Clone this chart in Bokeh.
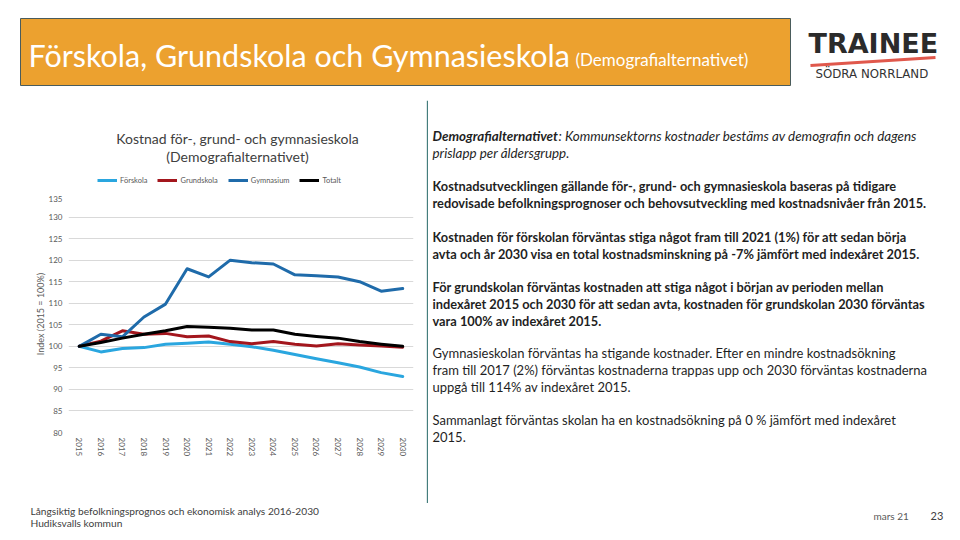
from bokeh.plotting import figure
from bokeh.models import Range1d, FactorRange, FixedTicker
from bokeh.layouts import column, row
from bokeh.embed import file_html
from bokeh.resources import INLINE
from bokeh.core.properties import value

FONT = "Lato"
NAN = float("nan")

# ---------------- data ----------------
years = ["2015", "2016", "2017", "2018", "2019", "2020", "2021", "2022",
         "2023", "2024", "2025", "2026", "2027", "2028", "2029", "2030"]
forskola = [100, 98.7, 99.5, 99.7, 100.5, 100.7, 101.0, 100.5,
            99.9, 99.1, 98.1, 97.1, 96.2, 95.2, 93.9, 93.0]
grundskola = [100, 101.2, 103.6, 102.8, 103.0, 102.2, 102.4, 101.1,
              100.6, 101.1, 100.5, 100.1, 100.6, 100.3, 100.1, 99.8]
gymnasium = [100, 102.8, 102.2, 106.8, 109.8, 118.0, 116.1, 120.0,
             119.4, 119.1, 116.6, 116.4, 116.1, 115.0, 112.8, 113.4]
totalt = [100, 100.9, 101.9, 102.8, 103.6, 104.6, 104.4, 104.2,
          103.8, 103.8, 102.8, 102.3, 101.9, 101.1, 100.5, 100.0]
series_names = ["Förskola", "Grundskola", "Gymnasium", "Totalt"]
series_colors = ["#2AA6DF", "#A3161D", "#1F6BAA", "#000000"]
y_ticks = [80, 85, 90, 95, 100, 105, 110, 115, 120, 125, 130, 135]
y_min, y_max = 80, 135

chart_title = ["Kostnad för-, grund- och gymnasieskola", "(Demografialternativet)"]
y_label = "Index (2015 = 100%)"

slide_title = "Förskola, Grundskola och Gymnasieskola"
slide_subtitle = "(Demografialternativet)"

intro_bold = "Demografialternativet"
intro_rest = ": Kommunsektorns kostnader bestäms av demografin och dagens"
intro_line2 = "prislapp per åldersgrupp."
bold_lines = [
    "Kostnadsutvecklingen gällande för-, grund- och gymnasieskola baseras på tidigare",
    "redovisade befolkningsprognoser och behovsutveckling med kostnadsnivåer från 2015.",
    "Kostnaden för förskolan förväntas stiga något fram till 2021 (1%) för att sedan börja",
    "avta och år 2030 visa en total kostnadsminskning på -7% jämfört med indexåret 2015.",
    "För grundskolan förväntas kostnaden att stiga något i början av perioden mellan",
    "indexåret 2015 och 2030 för att sedan avta, kostnaden för grundskolan 2030 förväntas",
    "vara 100% av indexåret 2015.",
]
bold_y = [185, 202, 236, 253, 286, 303, 320]
regular_lines = [
    "Gymnasieskolan förväntas ha stigande kostnader. Efter en mindre kostnadsökning",
    "fram till 2017 (2%) förväntas kostnaderna trappas upp och 2030 förväntas kostnaderna",
    "uppgå till 114% av indexåret 2015.",
    "Sammanlagt förväntas skolan ha en kostnadsökning på 0 % jämfört med indexåret",
    "2015.",
]
regular_y = [352, 369, 386, 419, 436]
footer_lines = ["Långsiktig befolkningsprognos och ekonomisk analys 2016-2030",
                "Hudiksvalls kommun"]


def blank(w, h, x0, x1, y0, y1, **kw):
    f = figure(width=w, height=h, x_range=Range1d(x0, x1), y_range=Range1d(y0, y1),
               toolbar_location=None, output_backend="svg",
               x_axis_type=None, y_axis_type=None, outline_line_color=None, **kw)
    f.grid.grid_line_color = None
    return f


# ---------------- header (slide y 0..100) ----------------
hdr = blank(960, 100, 0, 960, 100, 0, min_border=0)
hdr.quad(left=20, right=790, top=18, bottom=85, fill_color="#ECA12F",
         line_color="#4A5C5C", line_width=1)
hdr.text(x=[28], y=[54], text=[slide_title], text_font=value(FONT),
         text_font_size="30.5px", text_color="white", text_baseline="middle")
hdr.text(x=[575], y=[59], text=[slide_subtitle], text_font=value(FONT),
         text_font_size="17px", text_color="white", text_baseline="middle")
hdr.text(x=[808], y=[43], text=["TRAINEE"], text_font=value("DejaVu Sans"),
         text_font_size="27px", text_font_style="bold", text_color="#2B2B2B",
         text_baseline="middle")
hdr.segment(x0=[810], y0=[65], x1=[935], y1=[57], line_color="#E0584C", line_width=3)
hdr.text(x=[815], y=[73], text=["SÖDRA NORRLAND"], text_font=value("DejaVu Sans"),
         text_font_size="11.8px", text_color="#333333", text_baseline="middle")

# ---------------- chart title + legend (slide x 0..426, y 100..195) ----------------
tt = blank(426, 95, 68, 413, 195, 100, min_border_left=68, min_border_right=13,
           min_border_top=0, min_border_bottom=0)
tt.text(x=[237, 237], y=[138, 156], text=chart_title, text_font=value(FONT),
        text_font_size="14px", text_color="#404040", text_align="center",
        text_baseline="middle")
for name, col in zip(series_names, series_colors):
    tt.line(x=[NAN, NAN], y=[NAN, NAN], line_color=col, line_width=3, legend_label=name)
lg = tt.legend[0]
lg.location = (29, 9)
lg.orientation = "horizontal"
lg.padding = 0
lg.margin = 0
lg.spacing = 10
lg.glyph_width = 20
lg.glyph_height = 12
lg.label_height = 12
lg.label_standoff = 3
lg.label_text_font = FONT
lg.label_text_font_size = "7.5px"
lg.label_text_color = "#595959"
lg.border_line_color = None
lg.background_fill_alpha = 0

# ---------------- chart (slide x 0..426, y 195..503) ----------------
ch = figure(width=426, height=308, x_range=FactorRange(factors=years),
            y_range=Range1d(y_min, y_max), toolbar_location=None, output_backend="svg",
            min_border_left=68, min_border_right=13, min_border_top=0,
            min_border_bottom=71, outline_line_color=None)
ticker = FixedTicker(ticks=y_ticks)
ch.xgrid.grid_line_color = None
ch.ygrid.ticker = ticker
ch.ygrid.grid_line_color = "#D9D9D9"
ch.ygrid.grid_line_width = 1
ch.yaxis.ticker = ticker
for ax in (ch.xaxis, ch.yaxis):
    ax.axis_line_color = None
    ax.major_tick_line_color = None
    ax.minor_tick_line_color = None
    ax.major_tick_out = 0
    ax.major_tick_in = 0
    ax.major_label_text_font = FONT
    ax.major_label_text_color = "#595959"
ch.yaxis.major_label_text_font_size = "8px"
ch.yaxis.major_label_standoff = 6
ch.yaxis.axis_label = y_label
ch.yaxis.axis_label_text_font = FONT
ch.yaxis.axis_label_text_font_size = "9px"
ch.yaxis.axis_label_text_font_style = "normal"
ch.yaxis.axis_label_text_color = "#595959"
ch.yaxis.axis_label_standoff = 0
ch.xaxis.major_label_text_font_size = "8px"
ch.xaxis.major_label_orientation = "vertical"
ch.xaxis.major_label_standoff = 5

for vals, col in zip([forskola, grundskola, gymnasium, totalt], series_colors):
    ch.line(x=years, y=vals, line_color=col, line_width=3,
            line_join="round", line_cap="round")

# ---------------- text panel (slide x 426..960, y 100..503) ----------------
tf = blank(534, 403, 426, 960, 503, 100, min_border=0)
tf.segment(x0=[426.8], y0=[100], x1=[426.8], y1=[503], line_color="#2F6F6E", line_width=1.2)
tf.text(x=[432], y=[135], text=[intro_bold], text_font=value(FONT), text_font_size="13.4px",
        text_font_style="bold italic", text_color="#1F1F1F", text_baseline="middle")
tf.text(x=[558], y=[135], text=[intro_rest], text_font=value(FONT), text_font_size="13.4px",
        text_font_style="italic", text_color="#1F1F1F", text_baseline="middle")
tf.text(x=[432], y=[152], text=[intro_line2], text_font=value(FONT), text_font_size="13.4px",
        text_font_style="italic", text_color="#1F1F1F", text_baseline="middle")
tf.text(x=[432] * len(bold_lines), y=bold_y, text=bold_lines, text_font=value(FONT),
        text_font_size="12.8px", text_font_style="bold", text_color="#1F1F1F",
        text_baseline="middle")
tf.text(x=[432] * len(regular_lines), y=regular_y, text=regular_lines, text_font=value(FONT),
        text_font_size="13px", text_color="#1F1F1F", text_baseline="middle")

# ---------------- footer (slide y 503..540) ----------------
ft = blank(960, 37, 0, 960, 540, 503, min_border=0)
ft.text(x=[30, 30], y=[510, 522], text=footer_lines, text_font=value(FONT),
        text_font_size="10.2px", text_color="#404040", text_baseline="middle")
ft.text(x=[873], y=[515], text=["mars 21"], text_font=value(FONT),
        text_font_size="10px", text_color="#595959", text_baseline="middle")
ft.text(x=[930], y=[515], text=["23"], text_font=value(FONT),
        text_font_size="11px", text_color="#404040", text_baseline="middle")

layout = column(hdr, row(column(tt, ch), column(tf)), ft)
open("out.html", "w").write(file_html(layout, INLINE))
